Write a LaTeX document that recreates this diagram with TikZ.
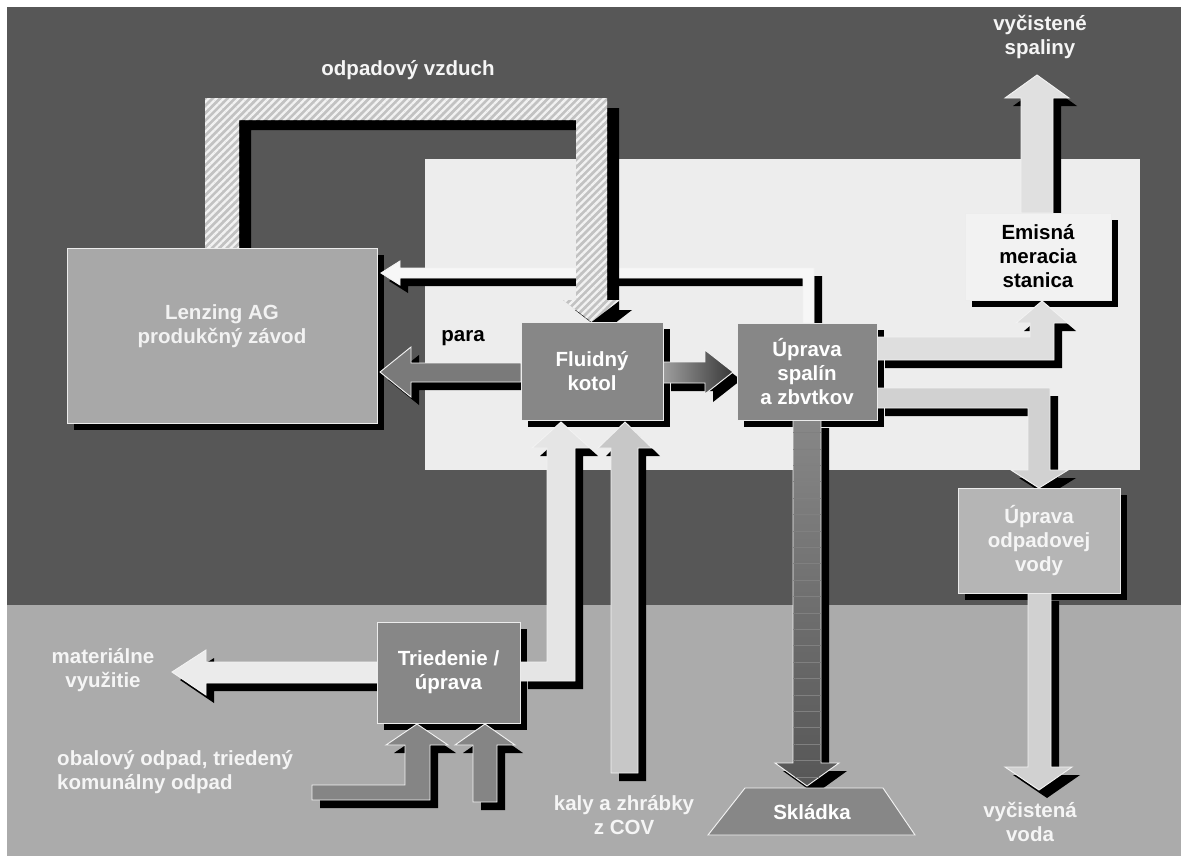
\documentclass[tikz,border=0pt]{standalone}
\usepackage{fontspec}
\setmainfont{Liberation Sans}
\usetikzlibrary{patterns.meta,shadows}
\definecolor{bgdark}{gray}{0.34}
\definecolor{bglight}{gray}{0.67}
\definecolor{panelc}{gray}{0.93}
\definecolor{lenzfill}{gray}{0.66}
\definecolor{boxdark}{gray}{0.53}
\definecolor{emisfill}{gray}{0.95}
\definecolor{vodafill}{gray}{0.71}
\definecolor{txtw}{gray}{0.96}
\pgfdeclarelayer{bg}
\pgfdeclarelayer{bshadow}
\pgfdeclarelayer{arrows}
\pgfsetlayers{bg,bshadow,arrows,main}
\tikzset{
  txtfont/.style={font=\bfseries\fontsize{17.5}{20.5}\selectfont},
  box/.style={draw=white!85!gray, line width=0.8pt, inner sep=0pt, outer sep=0pt, align=center, txtfont, text=white},
  lbl/.style={align=center, txtfont, text=txtw, inner sep=0pt},
  fatarr/.style={draw=white!90!gray, line width=0.8pt, line join=miter},
  ashadow/.style={drop shadow={opacity=1, fill=black, shadow xshift=0.24cm, shadow yshift=-0.24cm}},
  hshadow/.style={drop shadow={opacity=1, fill=black, shadow xshift=0.36cm, shadow yshift=-0.30cm}},
}
\begin{document}
\begin{tikzpicture}[x=0.03cm,y=-0.03cm]
\useasboundingbox (0,0) rectangle (1181,859);
\begin{pgfonlayer}{bg}
  \fill[white] (0,0) rectangle (1181,859);
  \fill[bgdark] (7,7) rectangle (1181,605);
  \fill[bglight] (7,605) rectangle (1181,856);
  \fill[panelc] (425,159) rectangle (1140,470);
\end{pgfonlayer}

% boxes
\node[box, fill=lenzfill, minimum width=9.3cm, minimum height=5.25cm] (lenz) at (222,335.5) {};
\node[lbl, text=white!90!gray] (lenzt) at (222,326) {Lenzing AG\\produkčný závod};
\node[box, fill=boxdark, minimum width=4.26cm, minimum height=2.94cm] (fluid) at (592,371) {Fluidný\\kotol};
\node[box, fill=boxdark, minimum width=4.2cm, minimum height=2.91cm] (uprava) at (807,371.5) {Úprava\\spalín\\a zbvtkov};
\node[box, fill=emisfill, text=black, minimum width=4.38cm, minimum height=2.61cm] (emis) at (1038,256.5) {Emisná\\meracia\\stanica};
\node[box, fill=vodafill, text=white!92!gray, minimum width=4.86cm, minimum height=3.15cm] (voda) at (1039,540.5) {Úprava\\odpadovej\\vody};
\node[box, fill=boxdark, minimum width=4.29cm, minimum height=3.03cm] (tried) at (448.5,672.5) {Triedenie /\\úprava};
\path[draw=white!90!gray, fill=boxdark, line width=0.8pt] (745,788) -- (883,788) -- (915,835) -- (708,835) -- cycle;
\node[lbl, text=white] (skl) at (812,812) {Skládka};

% box shadows
\begin{pgfonlayer}{bshadow}
  \foreach \n in {lenz,fluid,uprava,emis,voda,tried}
    \fill[black] ([shift={(7,7)}]\n.north west) rectangle ([shift={(7,7)}]\n.south east);
\end{pgfonlayer}

% arrows
\begin{pgfonlayer}{arrows}
  % return arrow to Lenzing
  \path[fatarr, ashadow, fill=white!97!black] (814,323) -- (814,268) -- (400,268) -- (400,261) -- (381,273) -- (400,285) -- (400,278) -- (803,278) -- (803,323) -- cycle;
  % waste air (hatched)
  \path[hshadow, preaction={fill=black!24}, pattern={Lines[angle=45,distance=4.5pt,line width=2pt]}, pattern color=black!5]
    (205,250) -- (205,98) -- (607,98) -- (607,300) -- (620,300) -- (591.5,322) -- (563,300) -- (576,300) -- (576,120) -- (239,120) -- (239,250) -- cycle;
  % para
  \path[fatarr, ashadow, fill=black!52] (521,363) -- (411,363) -- (411,347) -- (380,372) -- (411,397) -- (411,382) -- (521,382) -- cycle;
  % Fluidny -> Uprava
  \path[fatarr, ashadow, left color=black!38, right color=black!78] (663,362) -- (705,362) -- (705,350) -- (733,372) -- (705,394) -- (705,383) -- (663,383) -- cycle;
  % Uprava -> Emisna
  \path[fatarr, ashadow, fill=black!13] (877,337) -- (1030,337) -- (1030,323) -- (1016,323) -- (1042,301) -- (1068,323) -- (1054,323) -- (1054,360) -- (877,360) -- cycle;
  % Uprava -> voda
  \path[fatarr, ashadow, fill=black!18] (877,388) -- (1050,388) -- (1050,470) -- (1068,470) -- (1039,488) -- (1011,470) -- (1028,470) -- (1028,408) -- (877,408) -- cycle;
  % Emisna -> vycistene spaliny
  \path[fatarr, ashadow, fill=black!12] (1021,213) -- (1021,98) -- (1005,98) -- (1037,75) -- (1069,98) -- (1053,98) -- (1053,213) -- cycle;
  % voda -> vycistena voda
  \path[fatarr, ashadow, fill=black!18] (1028,593) -- (1028,767) -- (1005,767) -- (1039,790) -- (1072,767) -- (1051,767) -- (1051,593) -- cycle;
  % Uprava -> Skladka
  \path[fatarr, ashadow, top color=black!47, bottom color=black!66, postaction={pattern={Lines[angle=0,distance=14pt,line width=0.5pt]}, pattern color=black!50}]
    (793,420) -- (793,763) -- (775,763) -- (807,786) -- (839,763) -- (821,763) -- (821,420) -- cycle;
  % kaly -> Fluidny
  \path[fatarr, ashadow, fill=black!22] (611,773) -- (611,448) -- (598,448) -- (625,422) -- (652,448) -- (638,448) -- (638,773) -- cycle;
  % Triedenie -> Fluidny
  \path[fatarr, ashadow, fill=black!10] (520,662) -- (547,662) -- (547,448) -- (532,448) -- (561,422) -- (590,448) -- (575,448) -- (575,681) -- (520,681) -- cycle;
  % Triedenie -> materialne vyuzitie
  \path[fatarr, ashadow, fill=black!8] (377,662) -- (206,662) -- (206,650) -- (172,672) -- (206,695) -- (206,683) -- (377,683) -- cycle;
  % odpad -> Triedenie
  \path[fatarr, ashadow, fill=black!48] (312,785) -- (405,785) -- (405,745) -- (386,745) -- (417,724) -- (448,745) -- (430,745) -- (430,800) -- (312,800) -- cycle;
  \path[fatarr, ashadow, fill=black!48] (473,802) -- (473,745) -- (455,745) -- (485,724) -- (515,745) -- (497,745) -- (497,802) -- cycle;
\end{pgfonlayer}

% labels
\node[lbl] (air) at (408,70) {odpadový vzduch};
\node[lbl] (spal) at (1040,37) {vyčistené\\spaliny};
\node[lbl, text=black] (para) at (463,338) {para};
\node[lbl] (mat) at (103,670) {materiálne\\využitie};
\node[lbl, align=left, anchor=west] (obal) at (57,772) {obalový odpad, triedený\\komunálny odpad};
\node[lbl] (kaly) at (624,815) {kaly a zhrábky\\z COV};
\node[lbl] (vvoda) at (1030,822) {vyčistená\\voda};
\end{tikzpicture}
\end{document}
